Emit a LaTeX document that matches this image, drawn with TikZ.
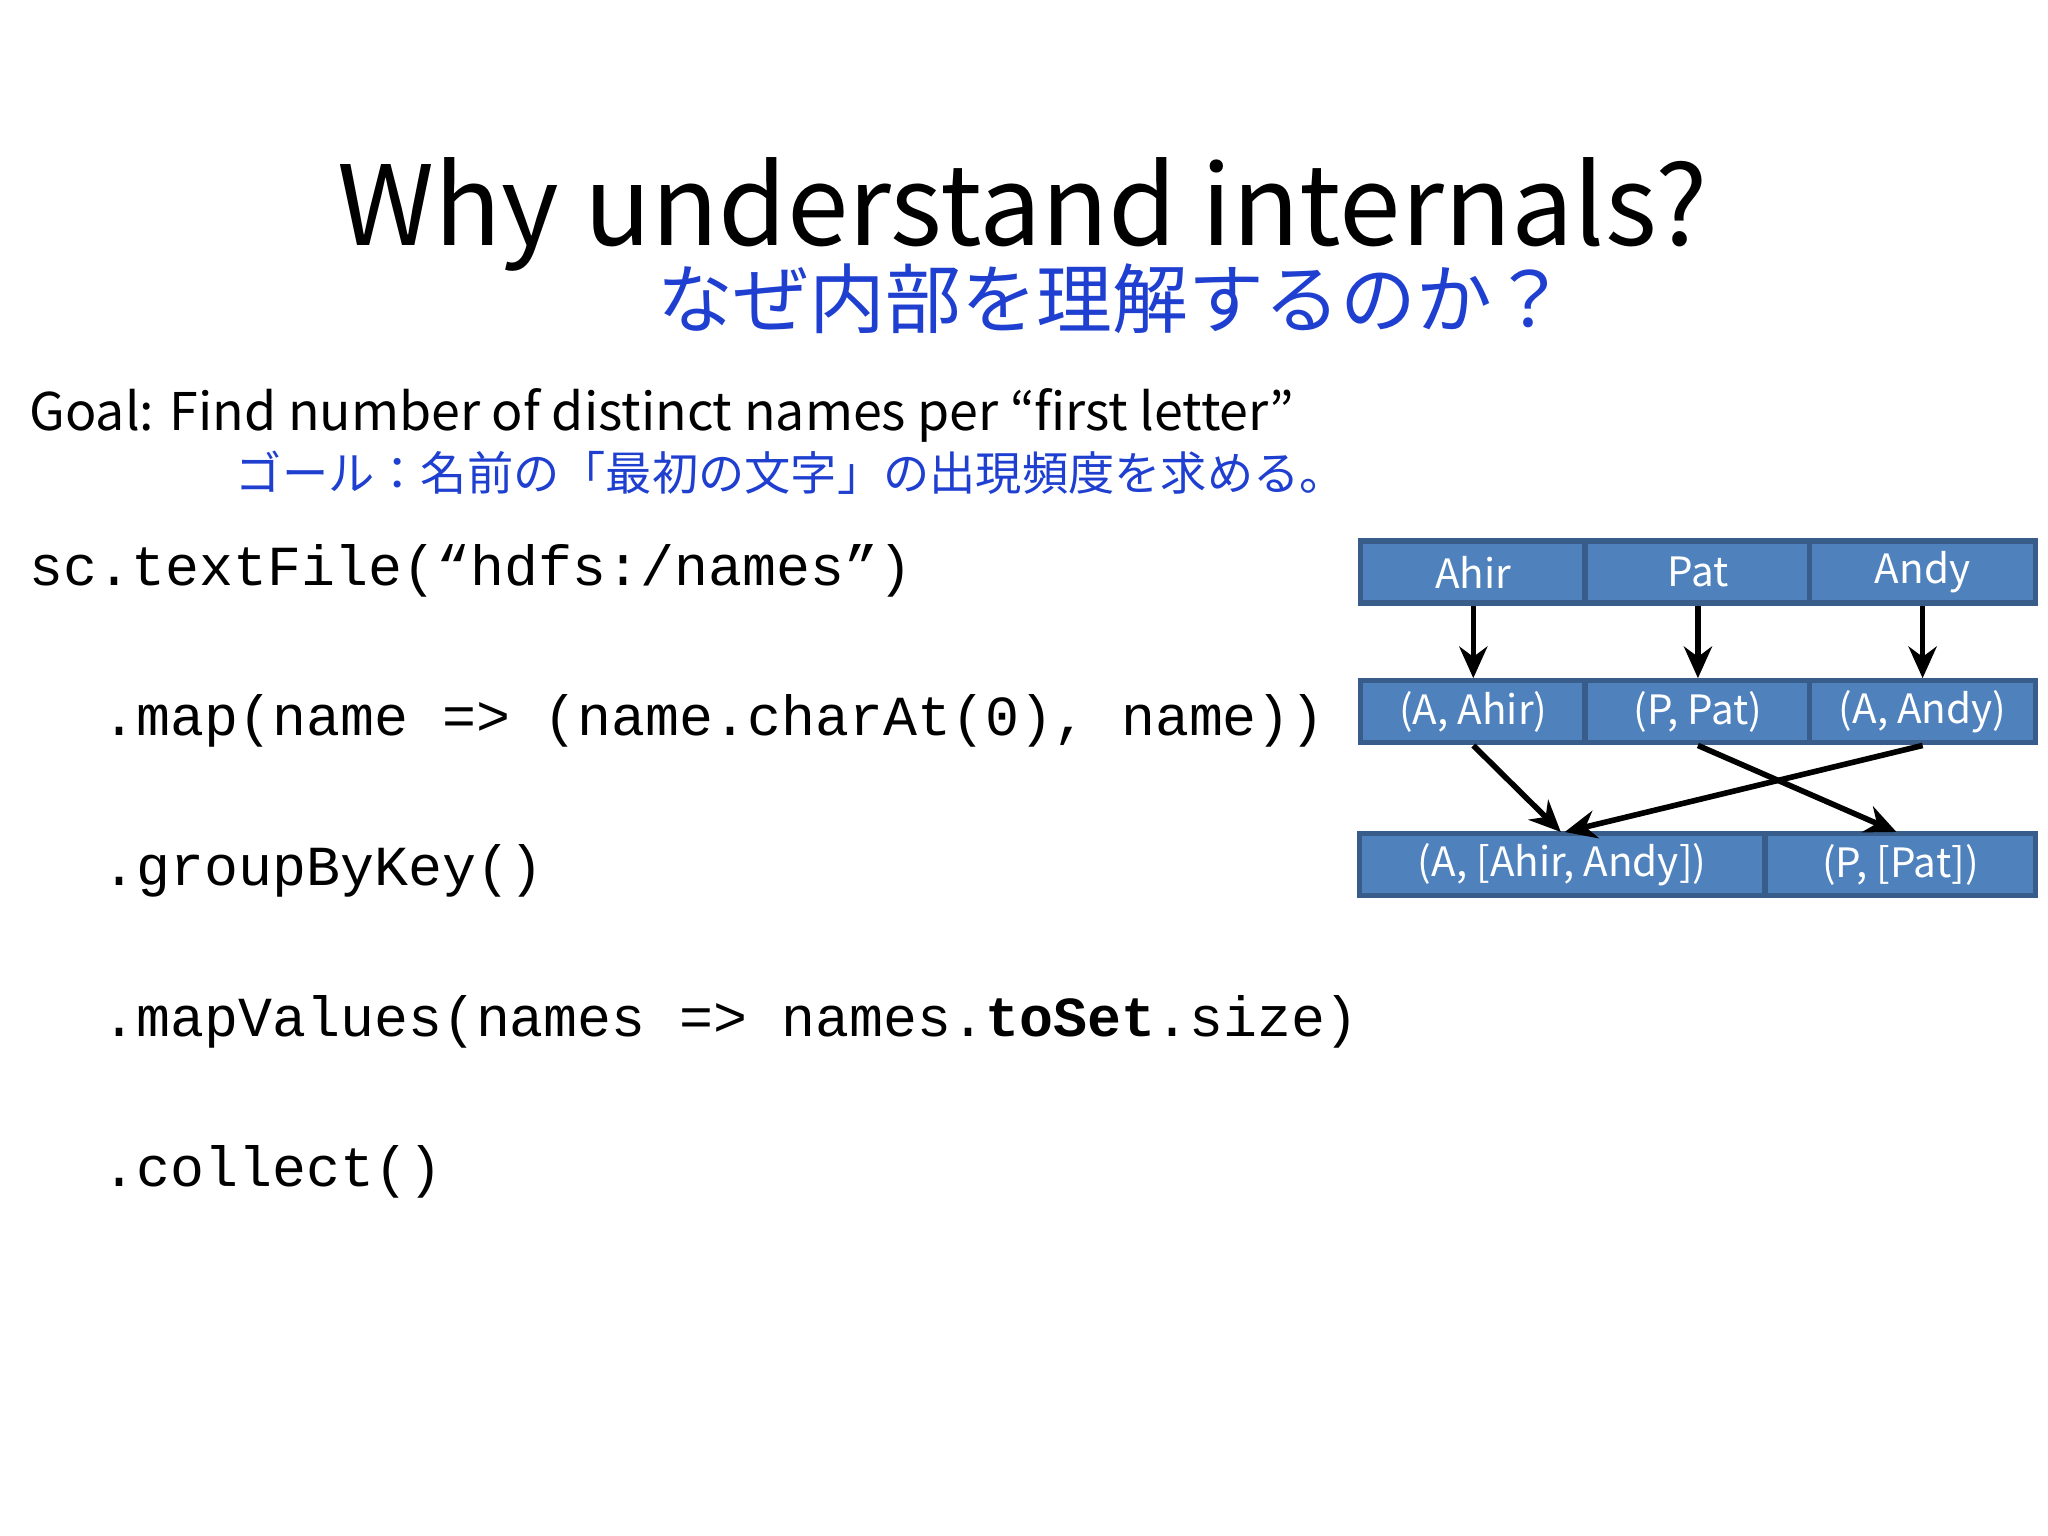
\documentclass[tikz,border=0pt]{standalone}
\usepackage{fontspec}
\setmainfont{Liberation Sans}
\newfontfamily\cjk{Noto Sans CJK JP}
\newfontfamily\codef{Liberation Mono}
\usetikzlibrary{arrows.meta}
\definecolor{cellfill}{HTML}{4F81BD}
\definecolor{celledge}{HTML}{385D8A}
\definecolor{jblue}{HTML}{1F3FD0}
\newcommand{\fitw}[2]{\resizebox{#1}{!}{#2}}
\begin{document}
\begin{tikzpicture}[x=0.01306cm,y=-0.01306cm,
  cell/.style={draw=celledge,line width=1.5pt,fill=cellfill,text=white,inner sep=0,minimum height=0.62cm,font=\cjk\fontsize{11.5}{13}\selectfont},
  code/.style={anchor=west,inner sep=0,font=\codef\fontsize{16.1}{18}\selectfont},
  arr/.style={-{Stealth[length=9pt,width=8pt]},line width=1.6pt}]
\useasboundingbox (0,0) rectangle (1568,1176);
\fill[white] (0,0) rectangle (1568,1176);
\node[inner sep=0] (title) at (783,164) {\fitw{13.7cm}{\cjk Why understand internals?}};
\node[inner sep=0,text=jblue] (jtitle) at (852,229) {\fitw{9.1cm}{\cjk なぜ内部を理解するのか？}};
\node[inner sep=0,anchor=west] (goal) at (22,318) {\fitw{12.65cm}{\cjk Goal: Find number of distinct names per “first letter”}};
\node[inner sep=0,anchor=west,text=jblue] (jgoal) at (180,362) {\fitw{11.1cm}{\cjk ゴール：名前の「最初の文字」の出現頻度を求める。}};
\node[code] (c1) at (22,437) {sc.textFile(“hdfs:/names”)};
\node[code] (c2) at (78,552) {.map(name => (name.charAt(0), name))};
\node[code] (c3) at (78,667) {.groupByKey()};
\node[code] (c4) at (78,782) {.mapValues(names => names.\textbf{toSet}.size)};
\node[code] (c5) at (78,897) {.collect()};
% row 1
\node[cell,minimum width=2.26cm] (r1a) at (1128,438) {Ahir};
\node[cell,minimum width=2.26cm] (r1b) at (1300,438) {Pat};
\node[cell,minimum width=2.26cm] (r1c) at (1472,438) {Andy};
% row 2
\node[cell,minimum width=2.26cm] (r2a) at (1128,545) {(A, Ahir)};
\node[cell,minimum width=2.26cm] (r2b) at (1300,545) {(P, Pat)};
\node[cell,minimum width=2.26cm] (r2c) at (1472,545) {(A, Andy)};
% row 3
\node[cell,minimum width=4.05cm] (r3a) at (1196,662) {(A, [Ahir, Andy])};
\node[cell,minimum width=2.70cm] (r3b) at (1455,662) {(P, [Pat])};
\draw[arr] (r1a.south) -- (r2a.north);
\draw[arr] (r1b.south) -- (r2b.north);
\draw[arr] (r1c.south) -- (r2c.north);
\coordinate (t1) at (1195,637);
\coordinate (t2) at (1452,637);
\coordinate (t3) at (1198,637);
\draw[arr] (r2a.south) -- (t1);
\draw[arr] (r2b.south) -- (t2);
\draw[arr] (r2c.south) -- (t3);
\end{tikzpicture}
\end{document}
